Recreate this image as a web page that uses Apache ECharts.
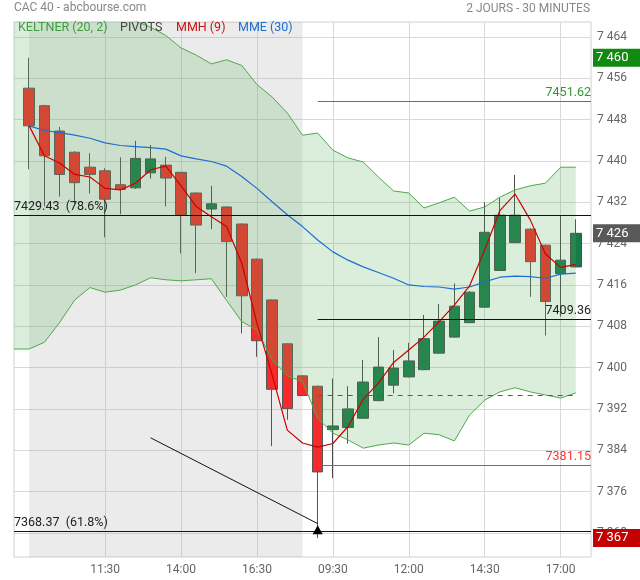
<!DOCTYPE html>
<html><head><meta charset="utf-8">
<script src="https://cdn.jsdelivr.net/npm/echarts@6/dist/echarts.min.js"></script>
<style>html,body{margin:0;padding:0;background:#fff}#c{width:640px;height:580px}</style>
</head><body><div id="c"></div>
<script>
// ---- data ----
const day1Times = ['09:00','09:30','10:00','10:30','11:00','11:30','12:00','12:30','13:00','13:30','14:00','14:30','15:00','15:30','16:00','16:30','17:00','17:30','18:00'];
const day2Times = ['09:00','09:30','10:00','10:30','11:00','11:30','12:00','12:30','13:00','13:30','14:00','14:30','15:00','15:30','16:00','16:30','17:00','17:30'];
const opens  = [7454.1,7450.7,7445.8,7441.7,7438.8,7438.1,7435.4,7434.8,7437.7,7439.2,7437.8,7433.8,7430.7,7431.1,7427.8,7421.0,7413.1,7404.6,7398.4,7396.4,7388.0,7388.4,7390.2,7393.6,7396.6,7398.2,7399.6,7402.8,7405.9,7408.7,7411.7,7418.8,7424.2,7426.8,7423.7,7418.2,7419.5];
const highs  = [7460.0,7450.9,7446.6,7441.9,7441.5,7438.6,7440.7,7443.9,7443.1,7440.8,7437.9,7433.9,7435.2,7431.2,7427.9,7421.1,7413.2,7404.7,7398.5,7396.5,7397.9,7396.4,7401.5,7405.9,7403.4,7404.8,7410.2,7412.3,7416.3,7414.8,7432.0,7432.9,7437.3,7427.0,7423.8,7429.5,7428.7];
const lows   = [7438.4,7431.2,7433.1,7431.6,7433.7,7425.2,7429.7,7434.6,7436.6,7431.2,7422.1,7418.3,7426.8,7413.7,7406.6,7402.1,7384.8,7389.9,7394.5,7367.0,7378.6,7385.3,7390.1,7393.5,7395.0,7398.1,7399.5,7402.7,7405.8,7408.6,7411.6,7418.7,7424.1,7413.7,7406.2,7409.9,7419.4];
const closes = [7446.8,7441.0,7437.4,7435.8,7437.4,7432.6,7434.5,7440.5,7440.4,7436.7,7429.5,7427.6,7431.7,7424.4,7413.9,7405.2,7395.8,7392.1,7394.6,7379.8,7388.7,7392.0,7397.2,7400.1,7399.9,7401.3,7405.6,7409.0,7411.9,7414.6,7426.2,7429.5,7429.5,7420.5,7412.8,7420.8,7426.0];
// Keltner (20,2): first value belongs to the bar just before the window
const keltnerUpper = [7476.0,7475.0,7474.0,7473.0,7472.0,7470.8,7469.5,7468.3,7467.1,7465.9,7464.3,7461.9,7460.5,7458.8,7459.6,7458.5,7454.8,7452.4,7449.3,7445.0,7445.4,7442.1,7440.6,7439.8,7436.9,7434.2,7433.8,7430.9,7431.9,7433.0,7430.3,7431.1,7433.0,7434.4,7435.2,7435.7,7438.8,7438.8];
const keltnerLower = [7403.6,7403.6,7404.9,7408.7,7413.1,7415.5,7414.6,7415.0,7416.0,7417.4,7417.0,7416.8,7417.0,7417.2,7413.0,7408.9,7407.3,7401.5,7398.4,7397.3,7390.2,7387.3,7386.0,7384.4,7385.0,7385.4,7385.0,7387.3,7387.0,7385.8,7390.8,7393.7,7395.3,7396.1,7395.3,7394.7,7394.1,7395.1];
const mmh9  = [7446.8,7441.0,7439.6,7437.4,7436.9,7434.7,7434.4,7435.7,7438.3,7439.0,7435.2,7431.2,7429.2,7427.3,7420.2,7408.6,7398.6,7387.9,7385.4,7384.6,7385.3,7388.6,7393.9,7397.0,7401.0,7403.4,7405.9,7408.9,7412.1,7415.8,7422.8,7430.4,7433.6,7428.6,7422.0,7419.4,7420.0];
const mme30 = [7446.8,7445.9,7445.5,7445.0,7444.4,7443.5,7443.0,7442.8,7442.6,7442.3,7441.0,7440.4,7439.9,7439.0,7437.0,7434.7,7432.1,7429.6,7427.3,7424.7,7422.4,7420.8,7419.5,7418.4,7417.3,7416.0,7415.7,7415.6,7415.2,7415.6,7416.6,7417.5,7417.7,7417.6,7417.3,7418.1,7418.3];
const yTicks = [7368,7376,7384,7392,7400,7408,7416,7424,7432,7440,7448,7456,7464];
const xLabelBars = [5,10,15,20,25,30,35];
const pivotR1 = 7451.62, pivotP = 7409.36, pivotS1 = 7381.15;
const fib786 = 7429.43, fib618 = 7368.37;
const day2FirstBar = 19;
const arrowStart = [8, 7386.4], arrowEnd = [19, 7369.8], arrowMark = [19, 7368.6];

// ---- build ----
const categories = [''].concat(day1Times, day2Times, ['']);
const nCat = categories.length;
const cat = i => i + 1;
const pad = a => ['-'].concat(a, ['-']);
const candleData = ['-'].concat(opens.map((o,i)=>[o, closes[i], lows[i], highs[i]]), ['-']);
const lowerData = keltnerLower.concat(['-']);
const diffData = keltnerUpper.map((u,i)=>+(u - keltnerLower[i]).toFixed(2)).concat(['-']);
const xLabelCats = xLabelBars.map(cat);
const fmt = v => String(Math.round(v)).replace(/\B(?=(\d{3})+(?!\d))/g, ' ');
const maxHigh = Math.max(...highs), minLow = Math.min(...lows), lastClose = closes[closes.length-1];
const prevClose = closes[day2FirstBar-1];
const FONT = 'Roboto';

const hline = (startCat, endCat, v, color, labelPos, text, labelColor, dashed) => [
  {coord:[startCat, v], lineStyle:{color, width:1, type: dashed ? [5,5] : 'solid'},
   label: text ? {show:true, position:labelPos, formatter:text, color:labelColor, fontSize:12.5, fontFamily:FONT, distance:[0,2]} : {show:false}},
  {coord:[endCat, v]}
];
const tag = (v, bg) => ({yAxis:v, lineStyle:{color:'rgba(0,0,0,0)', width:0},
  label:{show:true, position:'end', distance:2, formatter:fmt(v), color:'#fff', opacity:1,
  backgroundColor:bg, fontSize:13, fontFamily:FONT, lineHeight:14, padding:[2,16,2,3]}});

const chart = echarts.init(document.getElementById('c'), null, {renderer:'canvas'});
chart.setOption({
  animation:false,
  textStyle:{fontFamily:FONT},
  title:[
    {text:'CAC 40 - abcbourse.com', left:14, top:2, padding:0, textStyle:{fontSize:12, color:'#888', fontWeight:'normal', fontFamily:FONT}},
    {text:'2 JOURS - 30 MINUTES', right:50, top:3, padding:0, textStyle:{fontSize:12, color:'#888', fontWeight:'normal', fontFamily:FONT}}
  ],
  grid:{left:14, right:49, top:22, bottom:23, show:true, borderColor:'#d0d0d0', borderWidth:1},
  xAxis:{type:'category', data:categories, boundaryGap:false,
    axisLine:{show:false}, axisTick:{show:false},
    axisLabel:{interval:(i)=>xLabelCats.includes(i), color:'#666', fontSize:12, margin:7, fontFamily:FONT},
    splitLine:{show:true, interval:(i)=>xLabelCats.includes(i), lineStyle:{color:'#d8d8d8'}}},
  yAxis:{type:'value', position:'right', min:7363.33, max:7466.91,
    axisLine:{show:false}, axisTick:{show:false, customValues:yTicks},
    axisLabel:{customValues:yTicks, formatter:fmt, color:'#666', fontSize:12, margin:6, fontFamily:FONT},
    splitLine:{show:true, lineStyle:{color:'#d8d8d8'}}},
  graphic:[
    {type:'text', left:18, top:21, z:100, style:{text:'KELTNER (20, 2)', fill:'#3f9c3f', font:'12.5px Roboto'}},
    {type:'text', left:120, top:21, z:100, style:{text:'PIVOTS', fill:'#444', font:'12.5px Roboto'}},
    {type:'text', left:176, top:21, z:100, style:{text:'MMH (9)', fill:'#c81414', font:'12.5px Roboto'}},
    {type:'text', left:238, top:21, z:100, style:{text:'MME (30)', fill:'#1c6fd0', font:'12.5px Roboto'}}
  ],
  series:[
    {type:'candlestick', z:1, data:candleData, barWidth:11,
      itemStyle:{color:'#167a4a', color0:'#f52a2a', borderColor:'#4a4a4a', borderColor0:'#555', borderWidth:1}},
    {type:'line', z:2, data:[], silent:true,
      markArea:{silent:true, itemStyle:{color:'rgba(170,170,170,0.235)'}, data:[[{xAxis:cat(0)},{xAxis:cat(day2FirstBar-1)}]]}},
    {type:'line', z:3, stack:'keltner', data:lowerData, symbol:'none', silent:true,
      lineStyle:{color:'#4fa84a', width:1}},
    {type:'line', z:3, stack:'keltner', data:diffData, symbol:'none', silent:true,
      lineStyle:{color:'#4fa84a', width:1}, areaStyle:{color:'rgba(96,177,92,0.32)'}},
    {type:'line', z:4, data:pad(mme30), symbol:'none', silent:true, lineStyle:{color:'#1c6fd0', width:1.2}},
    {type:'line', z:4, data:pad(mmh9), symbol:'none', silent:true, lineStyle:{color:'#cc0000', width:1.2}},
    {type:'line', z:5, data:[], silent:true,
      markLine:{silent:true, symbol:'none', animation:false, data:[
        hline(cat(day2FirstBar), nCat-1, pivotR1, '#2e9a2e', 'insideEndTop', pivotR1.toFixed(2), '#2e9a2e'),
        hline(0, nCat-1, fib786, '#111', 'insideStartTop', fib786.toFixed(2)+'  (78.6%)', '#222'),
        hline(cat(day2FirstBar), nCat-1, pivotP, '#111', 'insideEndTop', pivotP.toFixed(2), '#222'),
        hline(cat(day2FirstBar), nCat-1, pivotS1, '#ff3333', 'insideEndTop', pivotS1.toFixed(2), '#ff3333'),
        hline(0, nCat-1, fib618, '#111', 'insideStartTop', fib618.toFixed(2)+'  (61.8%)', '#222'),
        hline(cat(day2FirstBar), cat(opens.length-1), prevClose, '#dd2222', 'end', null, null, true),
        [{coord:[cat(arrowStart[0]), arrowStart[1]], lineStyle:{color:'#111', width:1, type:'solid'}, label:{show:false}},
         {coord:[cat(arrowEnd[0]), arrowEnd[1]]}]
      ]},
      markPoint:{silent:true, symbol:'triangle', symbolSize:[10,9], itemStyle:{color:'#000'}, label:{show:false},
        data:[{coord:[cat(arrowMark[0]), arrowMark[1]]}]}},
    {type:'line', z:6, data:[], silent:true,
      markLine:{silent:true, symbol:'none', data:[
        tag(maxHigh, '#118a11'), tag(lastClose, '#595959'), tag(minLow, '#c40000')
      ]}}
  ]
});
</script></body></html>
